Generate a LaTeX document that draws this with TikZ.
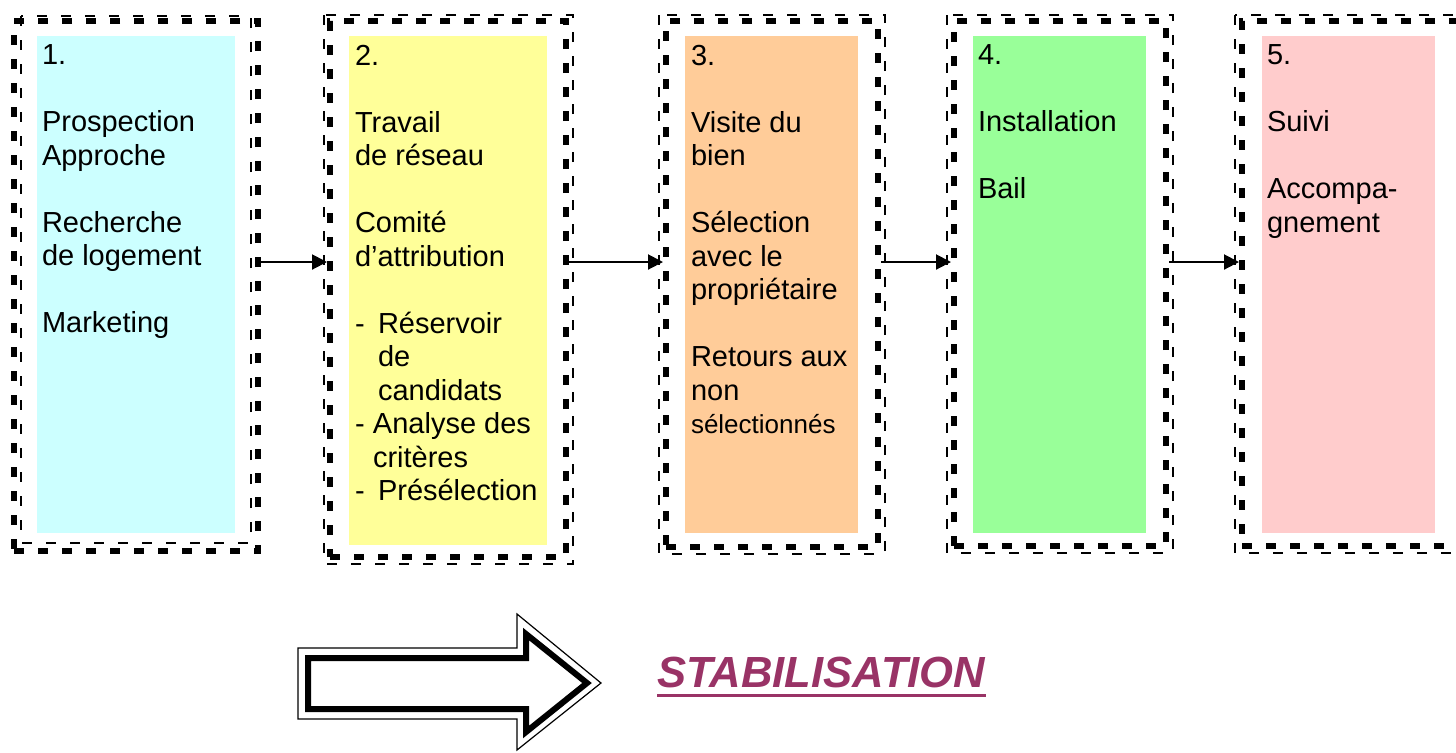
\documentclass[tikz,border=0pt]{standalone}
\usepackage{fontspec}
\setmainfont{Liberation Sans}
\usetikzlibrary{arrows.meta,fit}
\definecolor{cardcyan}{HTML}{CCFFFF}
\definecolor{cardyellow}{HTML}{FFFF99}
\definecolor{cardorange}{HTML}{FFCC99}
\definecolor{cardgreen}{HTML}{99FF99}
\definecolor{cardpink}{HTML}{FFCCCC}
\definecolor{plum}{HTML}{993366}
\newcommand{\blankline}{\\[16.75pt]}

\begin{document}
\begin{tikzpicture}[x=0.5pt, y=-0.5pt,
  frame/.style={draw, line width=3pt, dash pattern=on 5pt off 7pt, inner sep=0pt},
  thinframe/.style={line width=1pt, dash pattern=on 5pt off 7pt},
  card/.style={inner sep=0pt},
  words/.style={anchor=north west, inner sep=0pt, align=left,
    font=\fontsize{14.5}{16.75}\selectfont},
  link/.style={line width=1pt, -{Triangle[length=7.5pt, width=7.5pt]}}]
  \useasboundingbox (0,0) rectangle (1456,752);
  % coloured cards
  \node[card, fill=cardcyan, fit={(37,36) (235,533)}] (c1) {};
  \node[card, fill=cardyellow, fit={(349,36) (547,545)}] (c2) {};
  \node[card, fill=cardorange, fit={(685,36) (858,533)}] (c3) {};
  \node[card, fill=cardgreen, fit={(973,36) (1146,533)}] (c4) {};
  \node[card, fill=cardpink, fit={(1262,36) (1435,533)}] (c5) {};
  % dashed frames
  \node[frame, fit={(14,21) (258,551)}] (f1) {};
  \draw[thinframe] (21,16) rectangle (251,543);
  \node[frame, fit={(330,21) (566,557)}] (f2) {};
  \draw[thinframe] (324,15) rectangle (573,564);
  \node[frame, fit={(666,21) (878,547)}] (f3) {};
  \draw[thinframe] (659,15) rectangle (885,554);
  \node[frame, fit={(954,21) (1166,546)}] (f4) {};
  \draw[thinframe] (947,15) rectangle (1173,553);
  \node[frame, fit={(1242,21) (1460,546)}] (f5) {};
  \draw[thinframe] (1235,15) rectangle (1466,553);
  % texts
  \node[words] (t1) at ([xshift=2.5pt, yshift=-4.5pt]c1.north west)
    {1.\blankline Prospection\\Approche\blankline Recherche\\de logement\blankline Marketing};
  \node[words] (t2) at ([xshift=3pt, yshift=-4.5pt]c2.north west)
    {2.\blankline Travail\\de réseau\blankline Comité\\d’attribution\blankline
     \makebox[11.5pt][l]{-}Réservoir\\\hspace*{11.5pt}de\\\hspace*{11.5pt}candidats\\
     \makebox[9pt][l]{-}Analyse des\\\hspace*{9pt}critères\\
     \makebox[11.5pt][l]{-}Présélection};
  \node[words] (t3) at ([xshift=3pt, yshift=-4.5pt]c3.north west)
    {3.\blankline Visite du\\bien\blankline Sélection\\avec le\\propriétaire\blankline
     Retours aux\\non\\{\fontsize{13}{16.75}\selectfont sélectionnés}};
  \node[words] (t4) at ([xshift=2.5pt, yshift=-4.5pt]c4.north west)
    {4.\blankline Installation\blankline Bail};
  \node[words] (t5) at ([xshift=2.5pt, yshift=-4.5pt]c5.north west)
    {5.\blankline Suivi\blankline Accompa-\\gnement};
  % links
  \draw[link] (f1.east |- 0,262) -- (f2.west |- 0,262);
  \draw[link] (f2.east |- 0,262) -- (f3.west |- 0,262);
  \draw[link] (f3.east |- 0,262) -- (f4.west |- 0,262);
  \draw[link] (f4.east |- 0,262) -- (f5.west |- 0,262);
  % big arrow
  \draw[line width=0.6pt] (298,648) -- (517,648) -- (517,614) -- (601,683)
    -- (517,750) -- (517,719) -- (298,719) -- cycle;
  \draw[line width=3pt] (308,658) -- (526,658) -- (526,634) -- (587,683)
    -- (526,732) -- (526,709) -- (308,709) -- cycle;
  % title
  \node[font=\fontsize{21.8}{26}\selectfont\bfseries\itshape, text=plum,
    inner sep=0pt, anchor=base west] (stab) at (657,687) {STABILISATION};
  \draw[plum, line width=1.5pt] ([yshift=-4pt]stab.base west)
    -- ([yshift=-4pt]stab.base east);
\end{tikzpicture}
\end{document}
